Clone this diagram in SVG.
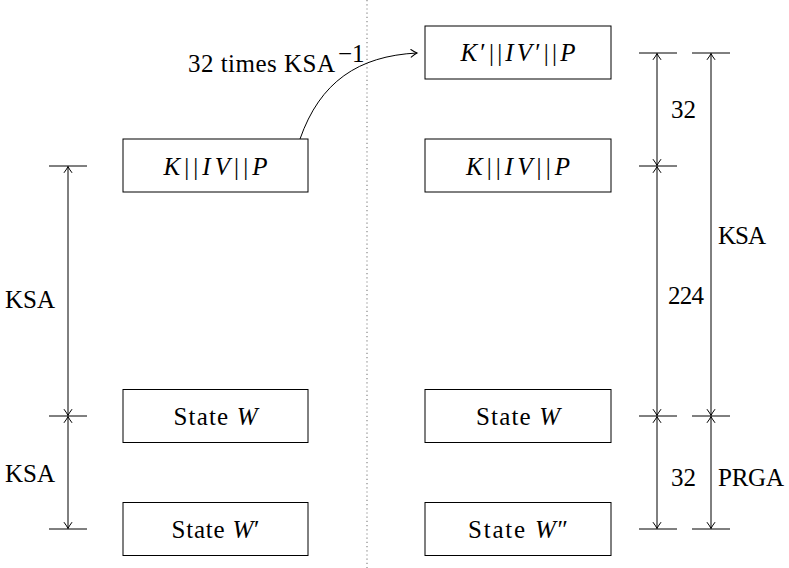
<svg xmlns="http://www.w3.org/2000/svg" width="789" height="568" viewBox="0 0 789 568">
  <defs>
    <marker id="tip" viewBox="-8 -5 10 10" refX="0" refY="0" markerWidth="10" markerHeight="10" markerUnits="userSpaceOnUse" orient="auto-start-reverse">
      <path d="M-6,-3.8 Q-2,-0.8 0,0 Q-2,0.8 -6,3.8" fill="none" stroke="#000" stroke-width="1" stroke-linecap="round"/>
    </marker>
    <style>
      .box { fill: #fff; stroke: #000; stroke-width: 1; }
      .t { font-family: "Liberation Serif", "Times New Roman", serif; font-size: 25px; fill: #000; }
      .c { text-anchor: middle; }
      .i { font-style: italic; }
      .tick { stroke: #000; stroke-width: 1; }
      .dim { stroke: #000; stroke-width: 1; fill: none; marker-start: url(#tip); marker-end: url(#tip); }
      .sep { stroke: #888; stroke-width: 1.2; stroke-dasharray: 1.2 3; }
    </style>
  </defs>

  <!-- separator -->
  <line class="sep" x1="367" y1="0" x2="367" y2="568"/>

  <!-- left column -->
  <g id="left-kivp">
    <rect class="box" x="123" y="139" width="185" height="53"/>
    <text class="t c" x="215.5" y="175" textLength="104" lengthAdjust="spacing"><tspan class="i">K</tspan>||<tspan class="i">IV</tspan>||<tspan class="i">P</tspan></text>
  </g>
  <g id="left-state-w">
    <rect class="box" x="123" y="389.5" width="185" height="53"/>
    <text class="t c" x="215.5" y="425" textLength="84" lengthAdjust="spacing">State <tspan class="i">W</tspan></text>
  </g>
  <g id="left-state-w1">
    <rect class="box" x="123" y="502.5" width="185" height="53"/>
    <text class="t c" x="215.5" y="538" textLength="88" lengthAdjust="spacing">State <tspan class="i">W</tspan>′</text>
  </g>

  <!-- right column -->
  <g id="right-kivp-prime">
    <rect class="box" x="425" y="26" width="186" height="53"/>
    <text class="t c" x="518" y="61" textLength="115" lengthAdjust="spacing"><tspan class="i">K</tspan>′||<tspan class="i">IV</tspan>′||<tspan class="i">P</tspan></text>
  </g>
  <g id="right-kivp">
    <rect class="box" x="425" y="139" width="186" height="53"/>
    <text class="t c" x="518" y="175" textLength="104" lengthAdjust="spacing"><tspan class="i">K</tspan>||<tspan class="i">IV</tspan>||<tspan class="i">P</tspan></text>
  </g>
  <g id="right-state-w">
    <rect class="box" x="425" y="389.5" width="186" height="53"/>
    <text class="t c" x="518" y="425" textLength="84" lengthAdjust="spacing">State <tspan class="i">W</tspan></text>
  </g>
  <g id="right-state-w2">
    <rect class="box" x="425" y="502.5" width="186" height="53"/>
    <text class="t c" x="518" y="538" textLength="100" lengthAdjust="spacing">State <tspan class="i">W</tspan>″</text>
  </g>

  <!-- connectors and dimension lines -->
  <g id="connectors">
    <path d="M300,139 C320,82 358,56 417,53" fill="none" stroke="#000" stroke-width="1" marker-end="url(#tip)"/>
    <text class="t" x="188" y="72" textLength="147" lengthAdjust="spacing">32 times KSA</text>
    <text class="t" x="338" y="62" font-size="15">−1</text>

    <!-- left dimensions -->
    <line class="tick" x1="49" y1="166" x2="87" y2="166"/>
    <line class="tick" x1="49" y1="416" x2="87" y2="416"/>
    <line class="tick" x1="49" y1="529" x2="87" y2="529"/>
    <line class="dim" x1="68" y1="166.5" x2="68" y2="415.5"/>
    <line class="dim" x1="68" y1="416.5" x2="68" y2="528.5"/>
    <text class="t" x="5" y="308" textLength="50" lengthAdjust="spacing">KSA</text>
    <text class="t" x="5" y="482" textLength="50" lengthAdjust="spacing">KSA</text>

    <!-- right dimensions, inner -->
    <line class="tick" x1="639" y1="53" x2="677" y2="53"/>
    <line class="tick" x1="639" y1="166" x2="677" y2="166"/>
    <line class="tick" x1="639" y1="416" x2="677" y2="416"/>
    <line class="tick" x1="639" y1="529" x2="677" y2="529"/>
    <line class="dim" x1="657" y1="53.5" x2="657" y2="165.5"/>
    <line class="dim" x1="657" y1="166.5" x2="657" y2="415.5"/>
    <line class="dim" x1="657" y1="416.5" x2="657" y2="528.5"/>
    <text class="t" x="671" y="118" textLength="25" lengthAdjust="spacing">32</text>
    <text class="t" x="668" y="304" textLength="36" lengthAdjust="spacing">224</text>
    <text class="t" x="671" y="486" textLength="25" lengthAdjust="spacing">32</text>

    <!-- right dimensions, outer -->
    <line class="tick" x1="692" y1="53" x2="730" y2="53"/>
    <line class="tick" x1="692" y1="416" x2="730" y2="416"/>
    <line class="tick" x1="692" y1="529" x2="730" y2="529"/>
    <line class="dim" x1="711" y1="53.5" x2="711" y2="415.5"/>
    <line class="dim" x1="711" y1="416.5" x2="711" y2="528.5"/>
    <text class="t" x="718" y="244" textLength="48" lengthAdjust="spacing">KSA</text>
    <text class="t" x="718" y="486" textLength="66" lengthAdjust="spacing">PRGA</text>
  </g>
</svg>
